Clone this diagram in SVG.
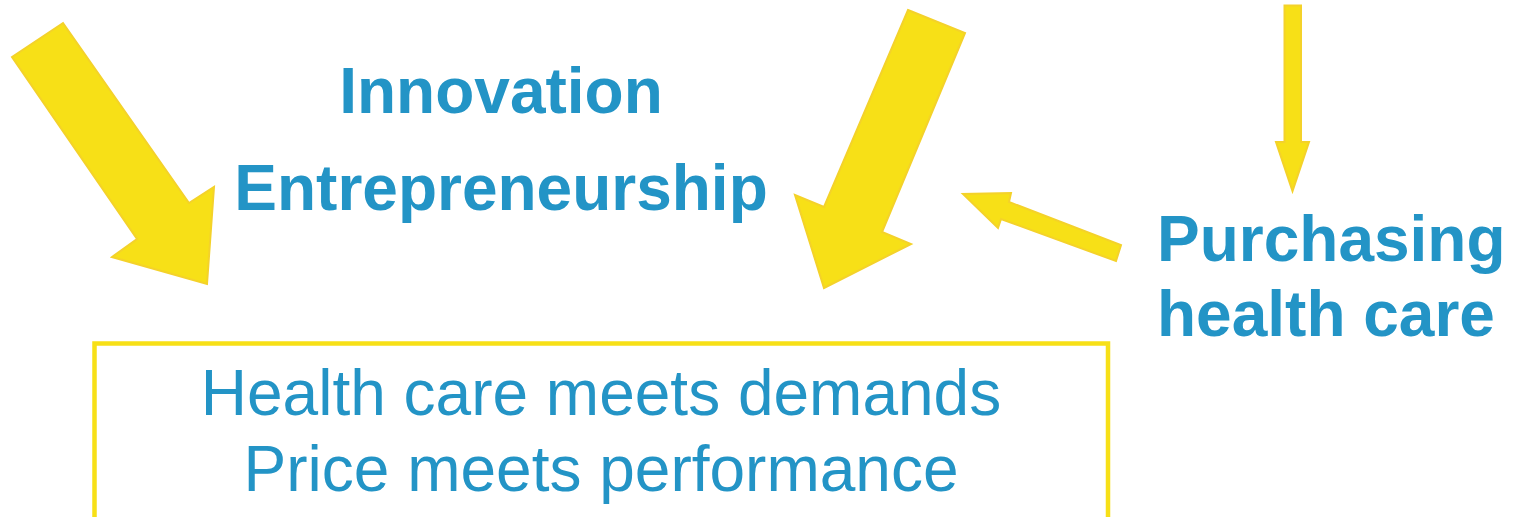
<svg xmlns="http://www.w3.org/2000/svg" width="1520" height="517" viewBox="0 0 1520 517">
  <style>
    .arrow { fill: #F7E017; stroke: #F4D22A; stroke-width: 2; stroke-linejoin: miter; }
    .label { fill: #2394C6; font-family: "Liberation Sans", Arial, sans-serif; font-size: 64px; }
    .bold { font-weight: bold; }
  </style>
  <rect width="1520" height="517" fill="#FFFFFF"/>

  <!-- block arrows -->
  <g id="connectors">
    <polygon id="arrow-left" class="arrow" points="12,57 63,23 189,203 214,187 207,284 112,257 137,239"/>
    <polygon id="arrow-middle" class="arrow" points="908,10 965,33 882,232 911,244 824,288 795,195 824,207"/>
    <polygon id="arrow-side" class="arrow" points="1116,261 1121,245 1009,202 1011,193 963,194 998,228 1001,219"/>
    <polygon id="arrow-down" class="arrow" points="1284.5,5.5 1301,5.5 1301,142 1309,142 1292.5,191 1276,142 1284.5,142"/>
  </g>

  <!-- driving forces -->
  <g id="node-innovation">
    <text class="label bold" x="501" y="113" text-anchor="middle">Innovation</text>
    <text class="label bold" x="501" y="210" text-anchor="middle">Entrepreneurship</text>
  </g>

  <g id="node-purchasing">
    <text class="label bold" x="1157" y="261">Purchasing</text>
    <text class="label bold" x="1157" y="336">health care</text>
  </g>

  <!-- outcome box, open at the bottom edge -->
  <g id="node-outcome">
    <path d="M94.5,520 V343.5 H1108 V520" fill="none" stroke="#F7E017" stroke-width="4.5"/>
    <text class="label" x="601" y="415" text-anchor="middle">Health care meets demands</text>
    <text class="label" x="601" y="491" text-anchor="middle">Price meets performance</text>
  </g>
</svg>
